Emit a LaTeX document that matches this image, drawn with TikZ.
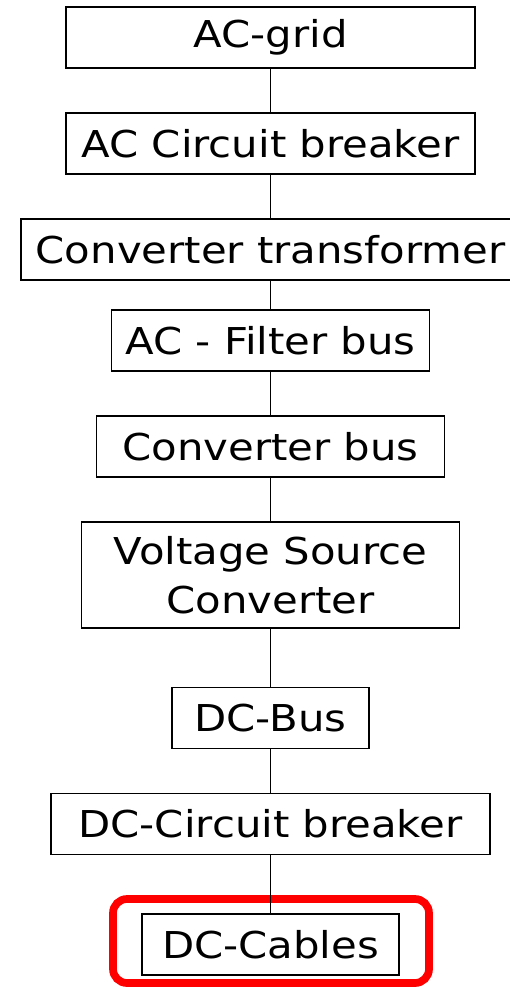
\documentclass[tikz,border=0pt]{standalone}
\usepackage{fontspec}
\newfontfamily\blkfont[FakeStretch=1.13]{DejaVu Sans}
\usetikzlibrary{positioning}
\definecolor{hilite}{HTML}{FF0000}

\begin{document}
\begin{tikzpicture}[x=1pt, y=1pt,
  blk/.style={rectangle, draw, line width=1.6pt, fill=white, minimum width=#1, minimum height=61pt, inner sep=0pt, align=center, font=\blkfont\fontsize{37}{49}\selectfont},
  link/.style={line width=1.8pt}
]
  \useasboundingbox (0,0) rectangle (510,-990);
  % chain of blocks, top to bottom
  \node[blk=409pt] (grid) at (270.5,-37.5) {AC-grid};
  \node[blk=409pt] (accb) at (270.5,-143.5) {AC Circuit breaker};
  \node[blk=499pt] (trafo) at (270.5,-249.5) {Converter transformer};
  \node[blk=318pt] (filt) at (270.5,-340.5) {AC - Filter bus};
  \node[blk=348pt] (cbus) at (270.5,-446.5) {Converter bus};
  \node[blk=378pt, minimum height=106pt] (vsc) at (270.5,-575) {Voltage Source\\Converter};
  \node[blk=197pt] (dcbus) at (270.5,-718) {DC-Bus};
  \node[blk=439pt] (dccb) at (270.5,-824) {DC-Circuit breaker};
  \node[blk=257pt] (cable) at (270.5,-944.5) {DC-Cables};
  % highlight round the cables
  \node[draw=hilite, line width=7.7pt, rounded corners=14pt, minimum width=316pt, minimum height=84pt] (mark) at (271,-941) {};
  \draw[link] (grid) -- (accb);
  \draw[link] (accb) -- (trafo);
  \draw[link] (trafo) -- (filt);
  \draw[link] (filt) -- (cbus);
  \draw[link] (cbus) -- (vsc);
  \draw[link] (vsc) -- (dcbus);
  \draw[link] (dcbus) -- (dccb);
  \draw[link] (dccb) -- (cable);
\end{tikzpicture}
\end{document}
